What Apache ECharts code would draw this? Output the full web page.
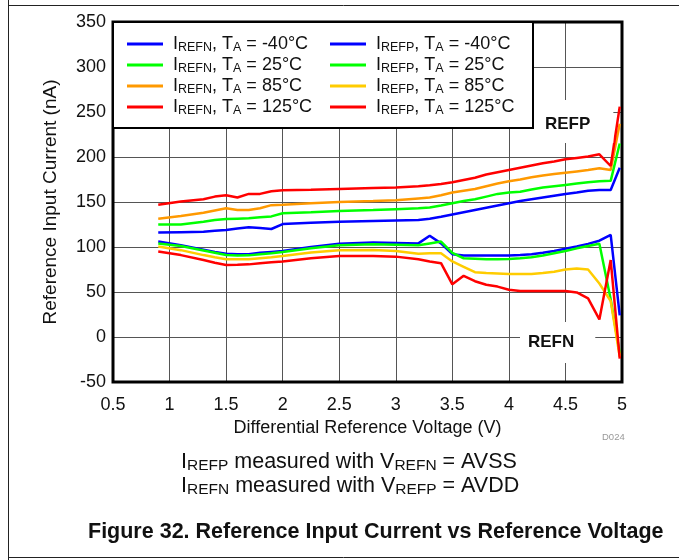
<!DOCTYPE html>
<html><head><meta charset="utf-8">
<script src="https://cdn.jsdelivr.net/npm/echarts@6/dist/echarts.min.js"></script>
<style>html,body{margin:0;padding:0;background:#fff}#c{width:679px;height:560px}</style>
</head><body><div id="c"></div>
<script>
// X values (Differential Reference Voltage, V)
const volts = [0.9,1.1,1.3,1.4,1.5,1.6,1.7,1.8,1.9,2.0,2.25,2.5,2.8,3.0,3.2,3.3,3.4,3.5,3.6,3.7,3.8,3.9,4.0,4.1,4.2,4.3,4.4,4.5,4.6,4.7,4.8,4.9,4.98];
// IREFP (nA)
const refpM40 = [116,116.5,117,118,119,120.5,122,121,120,125.5,127,128,129,129.5,130,131.5,133.5,136,138.5,141,143.5,146,148.5,151,153,155,157,159,160.5,162.5,163.3,163.3,188];
const refp25  = [125,125,128,130,131,131.5,132,133,134,137.5,138.5,140,141,142,143,144,146,148.5,151,153,156,159,160.5,161.5,164,166,167.5,169,170.5,172,173,173.5,215];
const refp85  = [131.5,134.5,138,140.5,143,141,141,143,146.5,147,148.5,150,151,152,154,155,157.5,160.5,162.5,164.5,167.5,170.5,173,175,177.5,179.5,181,182.5,184,185.5,187.5,185.5,237];
const refp125 = [147,150.5,153,156,157.5,155,159,159,162,163,163.5,164.5,165.5,166,167.5,168.5,170,172,174.5,177,180.5,183,185.5,188,190.5,193,195,197.5,199,200.5,203,190,256];
// IREFN (nA)
const refnM40 = [106,102,97,94.5,92.5,92,92,93.5,94.5,95.5,100,103.5,105,104.5,104,112.5,104,92,90.5,90.5,90.5,90.5,90.5,91,92,93.5,95.5,98,100.5,103.5,107,113.5,24];
const refn25  = [104,101,96,93.5,91,90.5,90.7,92,93,94.5,98.5,102,103,102.5,102,104,106,93.5,87.5,87,86.5,86.5,86.7,87.5,88.5,90.5,93,95.5,98.5,101,103.5,42,-18];
const refn85  = [100.5,96.5,91,88.5,86.5,86.3,86.3,87.5,88.7,90,94,96.5,96.7,95.5,92.5,93,93,84,78,72,71,70.5,70,70,70,71,72.5,75,76,75,59.5,40,-22];
const refn125 = [95,91,85.5,82.5,80,80.3,80.7,82,83,84,87.5,90,90,89.3,86.5,84,82,58.5,68,62,58,56,52.5,51,51,51,51,51,49.5,43,19.5,85.5,-24];

const temps = ['-40','25','85','125'];
const xTicks = {min:0.5, max:5, interval:0.5};
const yTicks = {min:-50, max:350, interval:50};

const FONT = 'Liberation Sans, Arial, sans-serif';
const blue='#0000FF', green='#00FF00', orange='#FF9900', yellow='#FFCC00', red='#FF0000';

const nName = t => 'IREFN, TA = ' + t + '°C';
const pName = t => 'IREFP, TA = ' + t + '°C';

function pair(arr){ return volts.map((v,i)=>[v,arr[i]]); }
function mk(name, arr, color){
  return {name, type:'line', data:pair(arr), symbol:'none', smooth:false,
    lineStyle:{color, width:2.5}, itemStyle:{color}, z:3};
}
const series = [
  mk(nName('-40'), refnM40, blue),
  mk(nName('25'), refn25, green),
  mk(nName('85'), refn85, yellow),
  mk(nName('125'), refn125, red),
  mk(pName('-40'), refpM40, blue),
  mk(pName('25'), refp25, green),
  mk(pName('85'), refp85, orange),
  mk(pName('125'), refp125, red)
];
const nLegendColors = [blue, green, orange, red];
const pLegendColors = [blue, green, yellow, red];

const legRich = {
  m:{fontSize:18, color:'#111', fontFamily:FONT, lineHeight:20},
  s:{fontSize:12.5, color:'#111', fontFamily:FONT, lineHeight:8, verticalAlign:'bottom'}
};
function legFmt(name){
  const kind = name.indexOf('IREFN')===0 ? 'REFN' : 'REFP';
  const t = name.split('= ')[1];
  return '{m|I}{s|' + kind + '}{m|, T}{s|A}{m| = ' + t + '}';
}
function mkLegend(names, colors, left){
  return {
    orient:'vertical', left, top:35, itemGap:2, itemWidth:36, itemHeight:3, icon:'rect',
    padding:0, selectedMode:false, z:5,
    data:names.map((n,i)=>({name:n, itemStyle:{color:colors[i]}})),
    formatter:legFmt,
    textStyle:{fontFamily:FONT, fontSize:18, color:'#111', padding:[0,0,0,5], rich:legRich}
  };
}

const chart = echarts.init(document.getElementById('c'), null, {renderer:'canvas'});
const subRich = {
  m:{fontSize:21.5, color:'#111', fontFamily:FONT, fontWeight:'normal', lineHeight:24},
  s:{fontSize:15.5, color:'#111', fontFamily:FONT, fontWeight:'normal', lineHeight:10, verticalAlign:'bottom'}
};
chart.setOption({
  animation:false,
  backgroundColor:'#fff',
  grid:{left:113, top:22, right:57, bottom:178, show:true, borderColor:'#000', borderWidth:3, containLabel:false, z:1},
  xAxis:{type:'value', min:xTicks.min, max:xTicks.max, interval:xTicks.interval,
    name:'Differential Reference Voltage (V)', nameLocation:'middle', nameGap:35,
    nameTextStyle:{fontFamily:FONT, fontSize:18, color:'#111'},
    axisLine:{show:false}, axisTick:{show:false},
    axisLabel:{fontFamily:FONT, fontSize:18, color:'#111', margin:14},
    splitLine:{show:true, lineStyle:{color:'#555', width:1}}},
  yAxis:{type:'value', min:yTicks.min, max:yTicks.max, interval:yTicks.interval,
    name:'Reference Input Current (nA)', nameLocation:'middle', nameGap:53,
    nameTextStyle:{fontFamily:FONT, fontSize:19, color:'#111'},
    axisLine:{show:false}, axisTick:{show:false},
    axisLabel:{fontFamily:FONT, fontSize:18, color:'#111', margin:7},
    splitLine:{show:true, lineStyle:{color:'#555', width:1}}},
  legend:[
    mkLegend(temps.map(nName), nLegendColors, 127),
    mkLegend(temps.map(pName), pLegendColors, 330)
  ],
  title:[
    {text:'REFP', left:533, top:100, padding:[16,23,10,12], backgroundColor:'#fff',
      textStyle:{fontFamily:FONT, fontSize:17, fontWeight:'bold', color:'#111'}, z:4},
    {text:'REFN', left:520, top:322, padding:[12,21,12,8], backgroundColor:'#fff',
      textStyle:{fontFamily:FONT, fontSize:17, fontWeight:'bold', color:'#111'}, z:4},
    {text:'D024', left:602, top:432, padding:0,
      textStyle:{fontFamily:FONT, fontSize:9.5, fontWeight:'normal', color:'#999'}},
    {text:'{m|I}{s|REFP}{m| measured with V}{s|REFN}{m| = AVSS}', left:181, top:450, padding:0,
      textStyle:{fontWeight:'normal', rich:subRich}},
    {text:'{m|I}{s|REFN}{m| measured with V}{s|REFP}{m| = AVDD}', left:181, top:474, padding:0,
      textStyle:{fontWeight:'normal', rich:subRich}},
    {text:'Figure 32. Reference Input Current vs Reference Voltage', left:88, top:521, padding:0,
      textStyle:{fontFamily:FONT, fontSize:21.5, fontWeight:'bold', color:'#111'}}
  ],
  graphic:[
    {type:'rect', shape:{x:113, y:22, width:420, height:106}, style:{fill:'#fff', stroke:'#000', lineWidth:2}, z:4},
    {type:'line', shape:{x1:8.5, y1:0, x2:8.5, y2:560}, style:{stroke:'#222', lineWidth:1}},
    {type:'line', shape:{x1:8, y1:5.5, x2:679, y2:5.5}, style:{stroke:'#222', lineWidth:1}},
    {type:'line', shape:{x1:8, y1:557.5, x2:679, y2:557.5}, style:{stroke:'#222', lineWidth:1}}
  ],
  series
});
</script></body></html>
